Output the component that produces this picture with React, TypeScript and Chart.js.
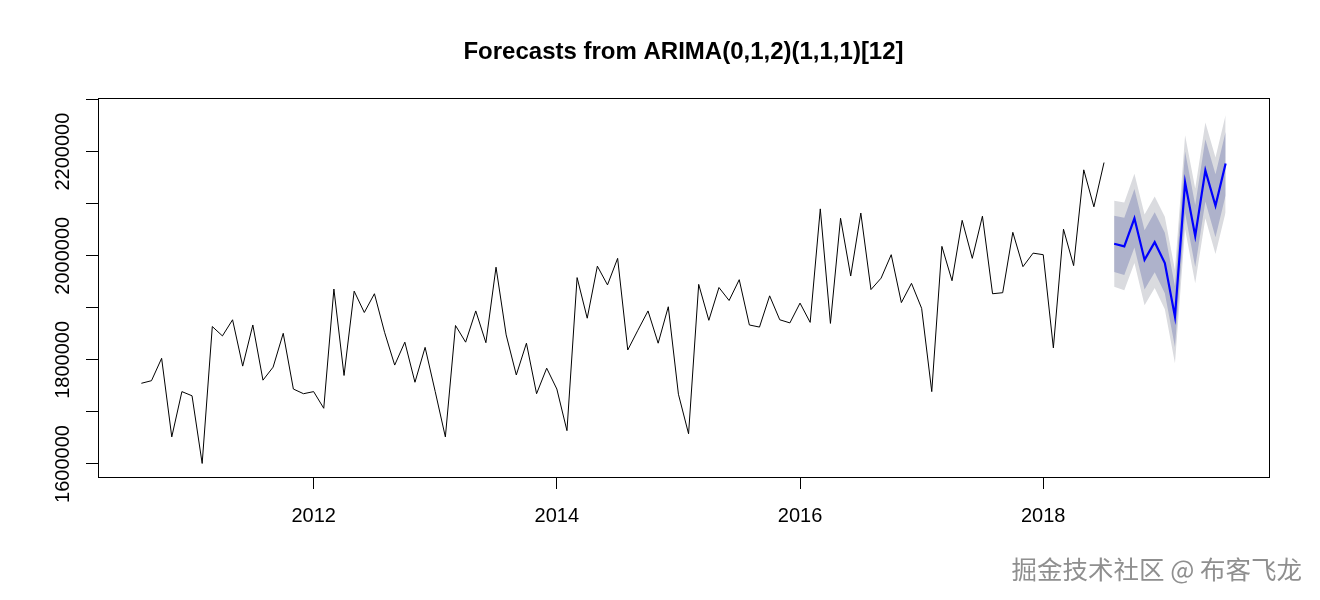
import React, { useEffect, useRef } from "react";
import { Chart, registerables } from "chart.js";

Chart.register(...registerables);

// ---- data (monthly series, starting August 2010) ----
const startYear = 2010;
const startMonth = 8;

const observed = [
  1755000, 1760000, 1803000, 1652000, 1739000, 1731000, 1601000, 1864000, 1846000, 1877000, 1788000, 1867000,
  1761000, 1786000, 1851000, 1744000, 1735000, 1739000, 1707000, 1936000, 1770000, 1932000, 1891000, 1927000,
  1853000, 1790000, 1834000, 1757000, 1824000, 1739000, 1652000, 1866000, 1834000, 1894000, 1833000, 1978000,
  1848000, 1771000, 1832000, 1735000, 1784000, 1744000, 1664000, 1958000, 1880000, 1980000, 1944000, 1995000,
  1819000, 1857000, 1894000, 1832000, 1902000, 1734000, 1658000, 1945000, 1876000, 1939000, 1914000, 1954000,
  1867000, 1863000, 1923000, 1877000, 1871000, 1909000, 1872000, 2090000, 1870000, 2072000, 1961000, 2082000,
  1935000, 1957000, 2002000, 1910000, 1947000, 1899000, 1739000, 2018000, 1952000, 2068000, 1995000, 2076000,
  1927000, 1929000, 2045000, 1979000, 2005000, 2002000, 1823000, 2051000, 1981000, 2165000, 2094000, 2179000,
];

const forecastMean = [2023000, 2018000, 2072000, 1992000, 2026000, 1986000, 1883000, 2141000, 2038000, 2164000, 2096000, 2177000];
const lower80 = [1969000, 1963000, 2016000, 1935000, 1968500, 1928000, 1824500, 2082000, 1978500, 2104000, 2035500, 2116000];
const upper80 = [2077000, 2073000, 2128000, 2049000, 2083500, 2044000, 1941500, 2200000, 2097500, 2224000, 2156500, 2238000];
const lower95 = [1940400, 1933800, 1986300, 1904800, 1938000, 1897300, 1793500, 2050700, 1947000, 2072200, 2003400, 2083700];
const upper95 = [2105600, 2102200, 2157700, 2079200, 2114000, 2074700, 1972500, 2231300, 2129000, 2255800, 2188600, 2270300];

const xTickValues = [2012, 2014, 2016, 2018];
const yTickValues = [1600000, 1700000, 1800000, 1900000, 2000000, 2100000, 2200000, 2300000];
const yLabelledTicks = [1600000, 1800000, 2000000, 2200000];

const titleText = "Forecasts from ARIMA(0,1,2)(1,1,1)[12]";
const watermark = "掘金技术社区 @ 布客飞龙";

// ---- helpers ----
const timeOf = (i: number) => startYear + (startMonth - 1 + i) / 12;
const forecastStart = observed.length;
const seriesPoints = (vals: number[], offset: number) => vals.map((v, i) => ({ x: timeOf(offset + i), y: v }));

const FONT = "'Liberation Sans', Arial, Helvetica, sans-serif";

const boxPlugin = {
  id: "rbox",
  afterDraw(chart: any) {
    const { ctx, chartArea: a } = chart;
    ctx.save();
    ctx.strokeStyle = "#000";
    ctx.lineWidth = 1;
    ctx.strokeRect(a.left + 0.5, a.top + 0.5, a.right - a.left, a.bottom - a.top);
    ctx.restore();
  },
};

export default function App() {
  const ref = useRef<HTMLCanvasElement>(null);

  useEffect(() => {
    if (!ref.current) return;
    const transparent = "rgba(0,0,0,0)";
    const chart = new Chart(ref.current, {
      type: "line",
      data: {
        datasets: [
          {
            label: "observed",
            data: seriesPoints(observed, 0),
            borderColor: "#000000",
            borderWidth: 1,
            pointRadius: 0,
            fill: false,
            tension: 0,
          },
          {
            label: "forecast",
            data: seriesPoints(forecastMean, forecastStart),
            borderColor: "#0000FF",
            borderWidth: 2.2,
            pointRadius: 0,
            fill: false,
            tension: 0,
          },
          {
            label: "hi80",
            data: seriesPoints(upper80, forecastStart),
            borderColor: transparent,
            borderWidth: 0,
            pointRadius: 0,
            backgroundColor: "#AEB2CB",
            fill: "+1",
          },
          {
            label: "lo80",
            data: seriesPoints(lower80, forecastStart),
            borderColor: transparent,
            borderWidth: 0,
            pointRadius: 0,
            fill: false,
          },
          {
            label: "hi95",
            data: seriesPoints(upper95, forecastStart),
            borderColor: transparent,
            borderWidth: 0,
            pointRadius: 0,
            backgroundColor: "#DADBDF",
            fill: "+1",
          },
          {
            label: "lo95",
            data: seriesPoints(lower95, forecastStart),
            borderColor: transparent,
            borderWidth: 0,
            pointRadius: 0,
            fill: false,
          },
        ],
      },
      options: {
        animation: false,
        responsive: false,
        devicePixelRatio: 1,
        events: [],
        layout: { padding: { left: 0, right: 51, top: 0, bottom: 0 }, autoPadding: false },
        plugins: {
          legend: { display: false },
          tooltip: { enabled: false },
          title: {
            display: true,
            text: titleText,
            fullSize: false,
            color: "#000",
            font: { family: FONT, size: 24, weight: "bold", lineHeight: 1.2 },
            padding: { top: 37.6, bottom: 31.6 },
          },
        },
        scales: {
          x: {
            type: "linear",
            min: 2010.2267,
            max: 2019.8567,
            afterFit: (s: any) => {
              s.height = 123;
            },
            afterBuildTicks: (s: any) => {
              s.ticks = xTickValues.map((v) => ({ value: v }));
            },
            ticks: {
              autoSkip: false,
              maxRotation: 0,
              minRotation: 0,
              padding: 15,
              color: "#000",
              font: { family: FONT, size: 20 },
              callback: (v: any) => String(v),
            },
            grid: { display: true, drawOnChartArea: false, drawTicks: true, tickLength: 12, color: "#000", tickColor: "#000", tickWidth: 1 },
            border: { display: false },
          },
          y: {
            type: "linear",
            min: 1575000,
            max: 2303000,
            afterFit: (s: any) => {
              s.width = 98;
            },
            afterBuildTicks: (s: any) => {
              s.ticks = yTickValues.map((v) => ({ value: v }));
            },
            ticks: {
              autoSkip: false,
              minRotation: 90,
              maxRotation: 90,
              crossAlign: "center",
              padding: -16,
              color: "#000",
              font: { family: FONT, size: 20 },
              callback: (v: any) => (yLabelledTicks.includes(v) ? String(v) : ""),
            },
            grid: { display: true, drawOnChartArea: false, drawTicks: true, tickLength: 12, color: "#000", tickColor: "#000", tickWidth: 1 },
            border: { display: false },
          },
        },
      },
      plugins: [boxPlugin],
    } as any);
    return () => chart.destroy();
  }, []);

  return (
    <div style={{ position: "fixed", left: 0, top: 0, width: 1320, height: 600, background: "#fff" }}>
      <canvas ref={ref} width={1320} height={600} style={{ display: "block", width: 1320, height: 600 }} />
      <div
        style={{
          position: "absolute",
          right: 18,
          top: 553,
          fontFamily: "'Noto Sans CJK SC', sans-serif",
          fontSize: 25.5,
          lineHeight: "30px",
          color: "#8f8f8f",
          whiteSpace: "nowrap",
        }}
      >
        {watermark}
      </div>
    </div>
  );
}
